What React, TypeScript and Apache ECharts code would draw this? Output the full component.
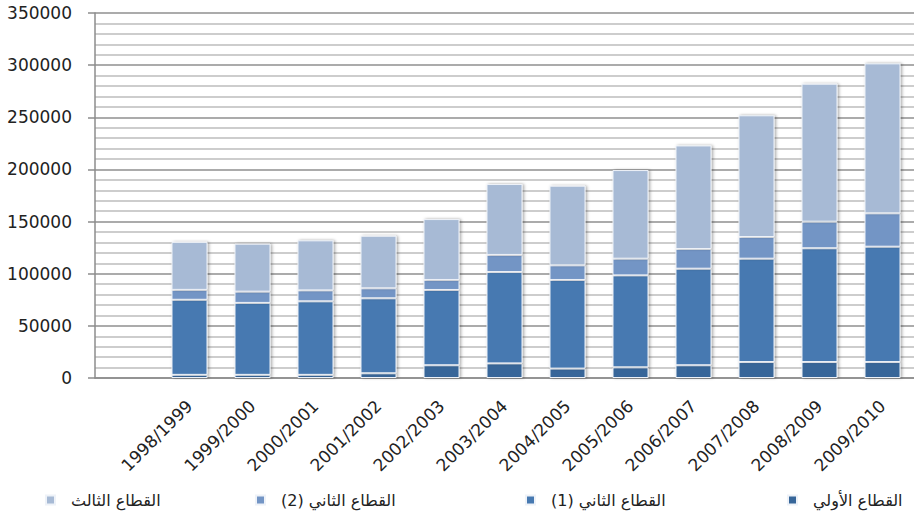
import React, { useEffect, useRef } from "react";
import * as echarts from "echarts";

// Fiscal years (the first slot is intentionally left blank)
const categories = [
  "",
  "1998/1999",
  "1999/2000",
  "2000/2001",
  "2001/2002",
  "2002/2003",
  "2003/2004",
  "2004/2005",
  "2005/2006",
  "2006/2007",
  "2007/2008",
  "2008/2009",
  "2009/2010",
];

const seriesNames = [
  "القطاع الأولي",
  "القطاع الثاني (1)",
  "القطاع الثاني (2)",
  "القطاع الثالث",
];

const primary = [null, 3000, 3000, 3000, 4500, 12200, 14000, 9000, 10200, 12200, 15300, 15300, 15300];
const secondary1 = [null, 72000, 69000, 70500, 71900, 72200, 87600, 85000, 88200, 92600, 99100, 109100, 110600];
const secondary2 = [null, 9500, 10800, 10500, 9600, 9600, 16400, 14000, 16000, 18900, 20800, 25500, 32000];
const tertiary = [null, 46000, 46000, 48000, 50400, 58400, 68000, 76400, 85000, 99300, 116700, 132300, 143800];

const colors = ["#376699", "#4779B1", "#7395C5", "#A7BAD5"];

const yTicks = { min: 0, max: 350000, interval: 50000 };

const FONT = "'DejaVu Sans', Verdana, sans-serif";

export default function App() {
  const ref = useRef<HTMLDivElement>(null);

  useEffect(() => {
    if (!ref.current) return;
    const chart = echarts.init(ref.current, undefined, { renderer: "svg" });

    const values = [primary, secondary1, secondary2, tertiary];

    const series = values.map((data, i) => ({
      name: seriesNames[i],
      type: "bar",
      stack: "total",
      barWidth: 36,
      data,
      itemStyle: {
        color: colors[i],
        borderColor: "#eef2f8",
        borderWidth: 1,
        shadowColor: "rgba(0,0,0,0.35)",
        shadowBlur: 3,
        shadowOffsetX: 1.5,
      },
    }));

    // Legend items are placed individually, ordered right-to-left
    const legendPos = [
      { name: seriesNames[3], left: 40 },
      { name: seriesNames[2], left: 250 },
      { name: seriesNames[1], left: 520 },
      { name: seriesNames[0], left: 782 },
    ];

    chart.setOption({
      animation: false,
      backgroundColor: "#ffffff",
      color: colors,
      grid: { left: 95, right: 0, top: 13, bottom: 140, containLabel: false },
      legend: legendPos.map((l) => ({
        data: [l.name],
        left: l.left,
        top: 487,
        itemWidth: 9,
        itemHeight: 9,
        icon: "rect",
        selectedMode: false,
        textStyle: {
          fontFamily: FONT,
          fontSize: 16,
          color: "#222",
          padding: [2, 0, 0, 11],
        },
      })),
      xAxis: {
        type: "category",
        data: categories,
        axisLine: { show: true, lineStyle: { color: "#8c8c8c", width: 1.5 } },
        axisTick: { show: false },
        axisLabel: {
          rotate: 45,
          interval: 0,
          margin: 25,
          fontFamily: FONT,
          fontSize: 17,
          color: "#222",
        },
      },
      yAxis: {
        type: "value",
        min: yTicks.min,
        max: yTicks.max,
        interval: yTicks.interval,
        axisLine: { show: true, lineStyle: { color: "#8c8c8c", width: 1.5 } },
        axisTick: { show: true, length: 7, lineStyle: { color: "#8c8c8c", width: 1.5 } },
        minorTick: { show: true, splitNumber: 5, length: 0 },
        splitLine: { show: true, lineStyle: { color: "#8f8f8f", width: 1.5 } },
        minorSplitLine: { show: true, lineStyle: { color: "#bdbdbd", width: 1.5 } },
        axisLabel: {
          margin: 23,
          fontFamily: FONT,
          fontSize: 17,
          color: "#222",
          formatter: (v: number) => String(v),
        },
      },
      series,
    });

    return () => chart.dispose();
  }, []);

  return (
    <div
      ref={ref}
      style={{ position: "absolute", left: 0, top: 0, width: 914, height: 518 }}
    />
  );
}
